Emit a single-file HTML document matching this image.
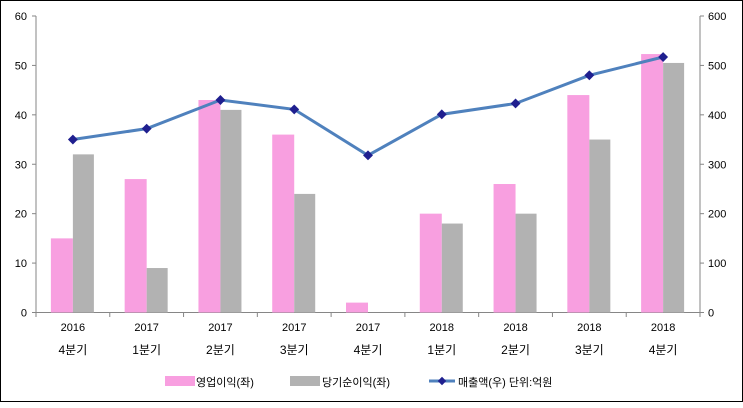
<!DOCTYPE html>
<html><head><meta charset="utf-8"><style>
body{margin:0;background:#fff}
text{font-family:"Liberation Sans","Noto Sans CJK KR",sans-serif;font-size:11px;fill:#000}
</style></head><body>
<svg width="743" height="403" xmlns="http://www.w3.org/2000/svg">
<rect x="0.5" y="0.5" width="742" height="401" fill="#fff" stroke="#000"/>
<g stroke="#868686" stroke-width="1">
<line x1="36" y1="16" x2="36" y2="313"/>
<line x1="700" y1="16" x2="700" y2="313"/>
<line x1="36" y1="312.5" x2="700" y2="312.5"/>
</g>
<g id="bars"></g>
<g id="ax"></g>
<g id="lab"></g>
<rect x="165" y="376" width="30" height="10" fill="#f89fe0"/>
<text x="196" y="386">영업이익(좌)</text>
<rect x="290" y="376" width="30" height="10" fill="#b2b2b2"/>
<text x="322" y="386">당기순이익(좌)</text>
<line x1="429" y1="381" x2="455" y2="381" stroke="#4f81bd" stroke-width="3"/>
<rect x="439" y="378" width="6" height="6" fill="#1f1f8f" transform="rotate(45 442 381)"/>
<text x="458" y="386">매출액(우)  단위:억원</text>
<script>
var s="http://www.w3.org/2000/svg";
function el(t,a,p,txt){var e=document.createElementNS(s,t);for(var k in a)e.setAttribute(k,a[k]);if(txt!=null)e.textContent=txt;document.querySelector(p).appendChild(e);return e;}
var y0=312.5,k=296.5/60;
var pk=[15,27,43,36,2,20,26,44,52.3],gr=[32,9,41,24,0,18,20,35,50.5],ln=[350,372,430,411,318,401,423,480,517];
var yr=["2016","2017","2017","2017","2017","2018","2018","2018","2018"],q=["4분기","1분기","2분기","3분기","4분기","1분기","2분기","3분기","4분기"];
var sp=664/9,pts=[];
for(var i=0;i<9;i++){var c=36+sp*(i+0.5);
el("rect",{x:c-22,y:y0-pk[i]*k,width:22,height:pk[i]*k,fill:"#f89fe0"},"#bars");
el("rect",{x:c,y:y0-gr[i]*k,width:21,height:gr[i]*k,fill:"#b2b2b2"},"#bars");
pts.push(c+","+(y0-ln[i]*k/10));
el("text",{x:c,y:331,"text-anchor":"middle"},"#lab",yr[i]);
el("text",{x:c,y:354,"text-anchor":"middle",style:"font-size:12px"},"#lab",q[i]);
el("line",{x1:36+sp*i,y1:313,x2:36+sp*i,y2:317,stroke:"#868686"},"#ax");}
el("line",{x1:700,y1:313,x2:700,y2:317,stroke:"#868686"},"#ax");
for(var j=0;j<=6;j++){var y=y0-j*10*k;
el("line",{x1:32,y1:y,x2:36,y2:y,stroke:"#868686"},"#ax");
el("line",{x1:700,y1:y,x2:704,y2:y,stroke:"#868686"},"#ax");
el("text",{x:27,y:y+4,"text-anchor":"end"},"#ax",j*10);
el("text",{x:708,y:y+4},"#ax",j*100);}
el("polyline",{points:pts.join(" "),fill:"none",stroke:"#4f81bd","stroke-width":3},"#lab");
pts.forEach(function(p){var a=p.split(",");el("rect",{x:a[0]-3.5,y:a[1]-3.5,width:7,height:7,fill:"#1f1f8f",transform:"rotate(45 "+a[0]+" "+a[1]+")"},"#lab");});
</script>
</svg>
</body></html>
